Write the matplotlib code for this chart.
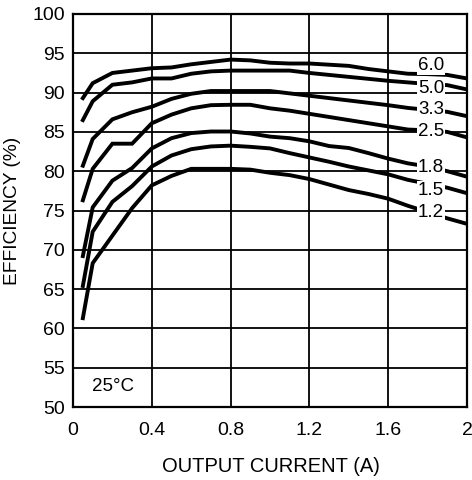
import matplotlib
matplotlib.use("Agg")
import matplotlib.pyplot as plt

plt.rcParams['font.family'] = ['Liberation Sans', 'DejaVu Sans']

current = [0.05, 0.1, 0.2, 0.3, 0.4, 0.5, 0.6, 0.7, 0.8, 0.9, 1.0,
           1.1, 1.2, 1.3, 1.4, 1.5, 1.6, 1.7, 1.8, 1.9, 2.0]

eff_6v0 = [89.3, 91.2, 92.5, 92.8, 93.1, 93.2, 93.6, 93.9, 94.2, 94.1, 93.8,
           93.7, 93.7, 93.55, 93.4, 93.0, 92.7, 92.4, 92.35, 92.25, 91.8]
eff_5v0 = [86.5, 88.9, 91.0, 91.3, 91.8, 91.8, 92.4, 92.7, 92.8, 92.8, 92.8,
           92.8, 92.5, 92.25, 92.0, 91.75, 91.5, 91.3, 91.1, 90.95, 90.4]
eff_3v3 = [80.7, 84.1, 86.6, 87.5, 88.2, 89.2, 89.85, 90.2, 90.2, 90.2, 90.2,
           89.9, 89.6, 89.3, 89.0, 88.7, 88.4, 88.05, 87.8, 87.55, 87.0]
eff_2v5 = [76.3, 80.3, 83.5, 83.5, 86.1, 87.2, 88.0, 88.4, 88.45, 88.45, 88.0,
           87.7, 87.3, 86.9, 86.5, 86.1, 85.7, 85.3, 85.2, 85.0, 84.3]
eff_1v8 = [69.2, 75.4, 78.8, 80.4, 82.9, 84.2, 84.85, 85.05, 85.05, 84.8, 84.4,
           84.2, 83.8, 83.2, 82.95, 82.3, 81.6, 81.0, 80.6, 80.0, 79.3]
eff_1v5 = [65.4, 72.3, 76.1, 78.1, 80.6, 82.0, 82.8, 83.15, 83.25, 83.1, 82.9,
           82.3, 81.75, 81.2, 80.6, 80.1, 79.6, 78.9, 78.4, 77.9, 77.2]
eff_1v2 = [61.3, 68.3, 71.8, 75.3, 78.2, 79.4, 80.3, 80.3, 80.3, 80.2, 79.8,
           79.5, 79.0, 78.3, 77.6, 77.1, 76.5, 75.6, 74.8, 74.0, 73.3]

series = [eff_6v0, eff_5v0, eff_3v3, eff_2v5, eff_1v8, eff_1v5, eff_1v2]
labels = ["6.0", "5.0", "3.3", "2.5", "1.8", "1.5", "1.2"]
label_y = [93.4, 90.5, 87.8, 85.0, 80.45, 77.6, 74.7]
label_x = 1.817

x_ticks = [0, 0.4, 0.8, 1.2, 1.6, 2]
x_tick_labels = ["0", "0.4", "0.8", "1.2", "1.6", "2"]
y_ticks = list(range(50, 101, 5))

fig = plt.figure(figsize=(4.72, 4.8), dpi=100)
ax = fig.add_axes([73/472, 1 - 407/480, (467-73)/472, (407-14)/480])

for ys in series:
    ax.plot(current, ys, color='black', lw=2.8, solid_joinstyle='miter', zorder=3)

for lab, ly in zip(labels, label_y):
    ax.text(label_x, ly, lab, fontsize=13.5, ha='center', va='center', zorder=5,
            bbox=dict(facecolor='white', edgecolor='none', pad=0.4))

ax.text(0.203, 52.6, "25°C", fontsize=13.5, ha='center', va='center', zorder=5)

ax.set_xlim(0, 2)
ax.set_ylim(50, 100)
ax.set_xticks(x_ticks)
ax.set_xticklabels(x_tick_labels)
ax.set_yticks(y_ticks)
ax.grid(True, color='black', lw=1.3)
ax.set_axisbelow(True)
ax.tick_params(axis='both', length=0, labelsize=14)
ax.tick_params(axis='x', pad=11)
ax.tick_params(axis='y', pad=6)
for s in ax.spines.values():
    s.set_linewidth(1.6)

fig.text(271/472, 1 - 466/480, "OUTPUT CURRENT (A)", fontsize=14.5,
         ha='center', va='center')
fig.text(13/472, 1 - 211/480, "EFFICIENCY (%)", fontsize=13.8,
         ha='center', va='center', rotation=90)

fig.savefig("out.png", dpi=100)
